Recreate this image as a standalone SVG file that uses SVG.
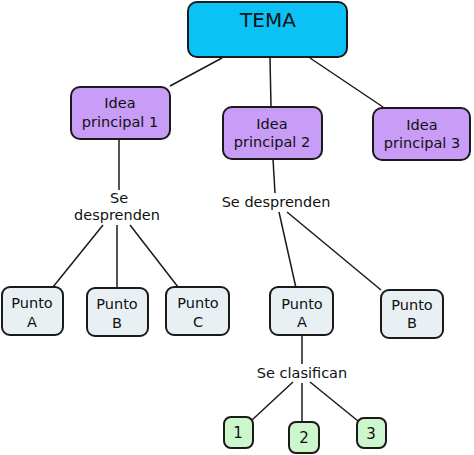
<svg xmlns="http://www.w3.org/2000/svg" width="474" height="455" viewBox="0 0 474 455">
<style>
.n{stroke:#1a1a1a;stroke-width:2}
.tema{fill:#0ac2f6}
.idea{fill:#c99cf7}
.pt{fill:#e9f0f4}
.num{fill:#ccf7cc}
text{font-family:"DejaVu Sans",Verdana,sans-serif;font-size:14.5px;fill:#111;text-anchor:middle}
.c line{stroke:#1a1a1a;stroke-width:1.5}
</style>
<rect width="474" height="455" fill="#fff"/>
<g class="c" id="connectors">
<line x1="222" y1="58" x2="170" y2="86"/>
<line x1="270" y1="58" x2="271" y2="107"/>
<line x1="310" y1="58" x2="383" y2="107"/>
<line x1="119" y1="139" x2="119" y2="190"/>
<line x1="103" y1="225" x2="53" y2="287"/>
<line x1="117" y1="225" x2="117" y2="288"/>
<line x1="130" y1="225" x2="178" y2="287"/>
<line x1="273" y1="159" x2="275" y2="193"/>
<line x1="279" y1="212" x2="296" y2="288"/>
<line x1="287" y1="212" x2="381" y2="290"/>
<line x1="302" y1="335" x2="302" y2="364"/>
<line x1="293" y1="382" x2="252" y2="420"/>
<line x1="302" y1="383" x2="302" y2="422"/>
<line x1="310" y1="382" x2="358" y2="421"/>
</g>
<g id="tema"><rect class="n tema" x="188" y="2" width="159" height="55" rx="9"/><text x="268" y="27" style="font-size:20px">TEMA</text></g>
<g id="idea1"><rect class="n idea" x="71" y="87" width="99" height="52" rx="9"/><text x="120" y="108">Idea</text><text x="120" y="127">principal 1</text></g>
<g id="idea2"><rect class="n idea" x="223" y="107" width="99" height="52" rx="9"/><text x="272" y="129">Idea</text><text x="272" y="147">principal 2</text></g>
<g id="idea3"><rect class="n idea" x="373" y="108" width="97" height="52" rx="9"/><text x="422" y="130">Idea</text><text x="422" y="148">principal 3</text></g>
<g id="sed1"><text x="119" y="203">Se</text><text x="117" y="220">desprenden</text></g>
<g id="sed2"><text x="276" y="207">Se desprenden</text></g>
<g id="pa1"><rect class="n pt" x="2" y="287" width="61" height="48" rx="8"/><text x="32" y="308">Punto</text><text x="32" y="327">A</text></g>
<g id="pb1"><rect class="n pt" x="87" y="288" width="61" height="48" rx="8"/><text x="117" y="309">Punto</text><text x="117" y="328">B</text></g>
<g id="pc1"><rect class="n pt" x="166" y="287" width="63" height="48" rx="8"/><text x="198" y="308">Punto</text><text x="198" y="327">C</text></g>
<g id="pa2"><rect class="n pt" x="270" y="287" width="63" height="48" rx="8"/><text x="302" y="309">Punto</text><text x="302" y="327">A</text></g>
<g id="pb2"><rect class="n pt" x="381" y="290" width="62" height="48" rx="8"/><text x="412" y="310">Punto</text><text x="412" y="328">B</text></g>
<g id="secl"><text x="302" y="378">Se clasifican</text></g>
<g id="n1"><rect class="n num" x="224" y="417" width="29" height="31" rx="7"/><text x="238" y="438" style="font-size:15px">1</text></g>
<g id="n2"><rect class="n num" x="289" y="422" width="30" height="31" rx="7"/><text x="304" y="443" style="font-size:15px">2</text></g>
<g id="n3"><rect class="n num" x="357" y="418" width="29" height="30" rx="7"/><text x="371" y="439" style="font-size:15px">3</text></g>
</svg>
